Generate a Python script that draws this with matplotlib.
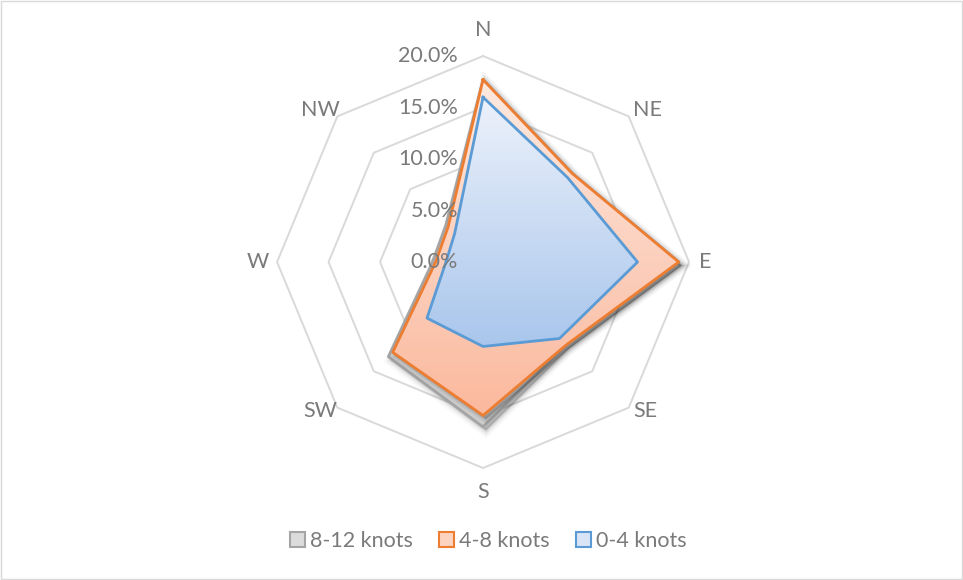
import numpy as np
import matplotlib
matplotlib.use('Agg')
import matplotlib.pyplot as plt
from matplotlib.patches import Patch, Rectangle
from matplotlib.colors import LinearSegmentedColormap
from matplotlib.transforms import ScaledTranslation

plt.rcParams['font.family'] = ['Lato', 'DejaVu Sans']

directions = ['N', 'NE', 'E', 'SE', 'S', 'SW', 'W', 'NW']
ring_values = [0, 5, 10, 15, 20]
ring_labels = ['0.0%', '5.0%', '10.0%', '15.0%', '20.0%']
series_names = ['8-12 knots', '4-8 knots', '0-4 knots']
knots_8_12 = [17.7, 12.2, 19.0, 11.4, 16.0, 13.0, 4.9, 5.1]
knots_4_8 = [17.7, 12.2, 19.0, 11.4, 14.9, 12.4, 4.6, 4.8]
knots_0_4 = [16.0, 11.6, 15.0, 10.5, 8.2, 7.7, 3.6, 3.9]

txt = '#7a7a7a'
fs = 15.5

fig = plt.figure(figsize=(9.63, 5.8), dpi=100)
ax = fig.add_axes([0.2877, 0.1931, 0.4278, 0.7103], projection='polar')
ax.set_theta_zero_location('N')
ax.set_theta_direction(-1)
ax.set_xlim(0, 2 * np.pi)
ax.set_ylim(0, 20)
ax.set_autoscale_on(False)
ax.grid(False)
ax.spines['polar'].set_visible(False)
ax.set_xticks([])
ax.set_yticks([])
ax.patch.set_visible(False)

theta = np.arange(len(directions)) * 2 * np.pi / len(directions)
th = np.append(theta, theta[0])


def closed(vals):
    return np.append(vals, vals[0])


# octagon rings
for v in ring_values[1:]:
    ax.plot(th, [v] * len(th), color='#d9d9d9', lw=1.4, zorder=1, clip_on=False)


def shadow(vals, z):
    # soft drop shadow, down-right
    for lw, a in [(9, 0.025), (6, 0.04), (3.5, 0.06), (1.5, 0.08)]:
        tr = ax.transData + ScaledTranslation(0.03, -0.035, fig.dpi_scale_trans)
        ax.fill(th, closed(vals), facecolor='k', edgecolor='k', lw=lw, alpha=a,
                transform=tr, zorder=z, clip_on=False)


def gradient_fill(vals, top, bottom, z):
    poly = ax.fill(th, closed(vals), facecolor='none', edgecolor='none', zorder=z)[0]
    pts = ax.transAxes.inverted().transform(
        ax.transData.transform(np.column_stack([theta, vals])))
    y0, y1 = pts[:, 1].min(), pts[:, 1].max()
    cmap = LinearSegmentedColormap.from_list('g', [bottom, top])
    grad = np.linspace(0, 1, 256).reshape(-1, 1)
    im = ax.imshow(grad, cmap=cmap, aspect='auto', origin='lower',
                   extent=[0, 1, y0, y1], transform=ax.transAxes,
                   zorder=z, interpolation='bilinear')
    im.set_clip_path(poly)
    ax.set_xlim(0, 2 * np.pi)
    ax.set_ylim(0, 20)


# 8-12 knots
shadow(knots_8_12, 2)
ax.fill(th, closed(knots_8_12), facecolor='#d2d2d2', edgecolor='none', zorder=3)
ax.plot(th, closed(knots_8_12), color='#a5a5a5', lw=2, zorder=4)

# 4-8 knots
shadow(knots_4_8, 5)
gradient_fill(knots_4_8, '#fde9e0', '#fbb99e', 6)
ax.plot(th, closed(knots_4_8), color='#ed7d31', lw=2, zorder=7)

# 0-4 knots
gradient_fill(knots_0_4, '#edf2fb', '#a9c6ec', 8)
ax.plot(th, closed(knots_0_4), color='#5b9bd5', lw=2, zorder=9)

# radial labels
for v, lab in zip(ring_values, ring_labels):
    ax.annotate(lab, xy=(0, v), xytext=(-25, 0), textcoords='offset pixels',
                ha='right', va='center', fontsize=fs, color=txt, zorder=10,
                annotation_clip=False)

# direction labels, placed next to the outer ring corner like Excel does
label_off = {'N': (0, 26), 'NE': (19, 6), 'E': (16, 0), 'SE': (17, -3),
             'S': (0, -24), 'SW': (-17, -3), 'W': (-19, 0), 'NW': (-17, 6)}
for t, d in zip(theta, directions):
    ax.annotate(d, xy=(t, ring_values[-1]), xytext=label_off[d],
                textcoords='offset pixels', ha='center', va='center',
                fontsize=fs, color=txt, annotation_clip=False)

handles = [
    Patch(facecolor='#dcdcdc', edgecolor='#a5a5a5', lw=1.5),
    Patch(facecolor='#fcd3c1', edgecolor='#ed7d31', lw=1.5),
    Patch(facecolor='#d9e5f6', edgecolor='#5b9bd5', lw=1.5),
]
fig.legend(handles, series_names, loc='center', bbox_to_anchor=(0.507, 0.067),
           ncol=3, frameon=False, fontsize=fs, labelcolor=txt,
           handlelength=0.7, handleheight=0.7, handletextpad=0.25,
           columnspacing=1.2)

fig.add_artist(Rectangle((0.0008, 0.0012), 0.9984, 0.9966, transform=fig.transFigure,
                         fill=False, edgecolor='#d9d9d9', lw=1))

fig.savefig('out.png', dpi=100)
